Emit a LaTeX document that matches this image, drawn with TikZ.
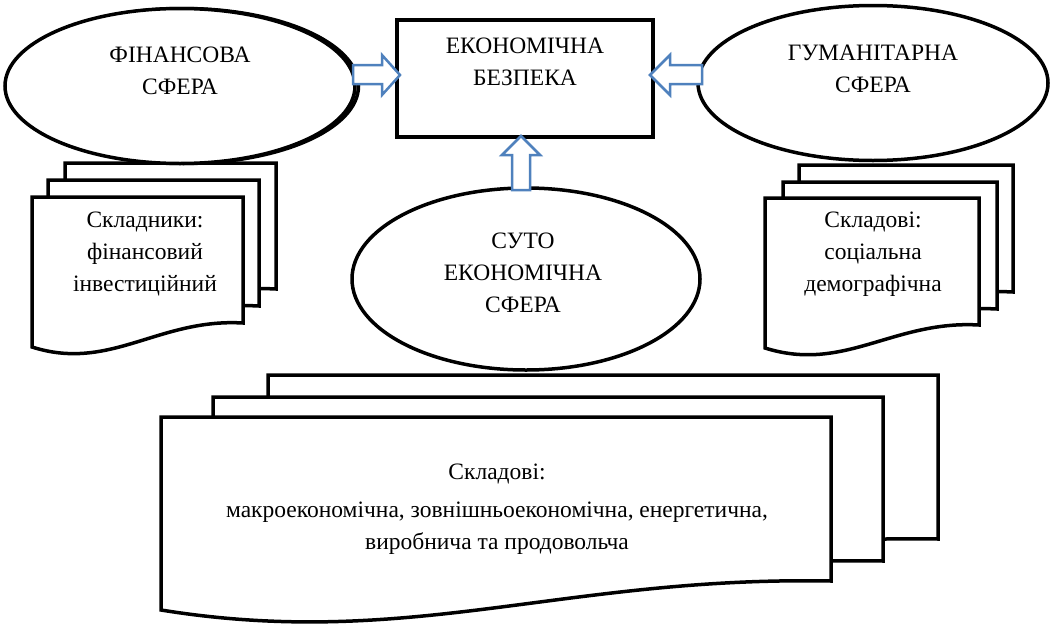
\documentclass[tikz,border=0pt]{standalone}
\usepackage{fontspec}
\setmainfont{Liberation Serif}
\usetikzlibrary{shapes.geometric}
\definecolor{arrowblue}{RGB}{79,129,189}
\newcommand\mydoc[6]{%
  \draw[docline] (#1,#5) -- (#1,#2) -- (#3,#2) -- (#3,#4)
    .. controls ({#1+0.6*(#3-#1)},{#4-5}) and ({#1+0.37*(#3-#1)},{#5+#6}) .. (#1,#5) -- cycle;}
\begin{document}
\begin{tikzpicture}[x=1pt,y=-1pt,
  docline/.style={line width=3.5pt, fill=white, line join=miter},
  ell/.style={ellipse, draw, line width=3.5pt, inner sep=0pt, fill=white},
  boxnode/.style={rectangle, draw, line width=3.5pt, inner sep=0pt, fill=white},
  txt/.style={align=center, inner sep=0pt, anchor=base, font=\fontsize{23.5}{32}\selectfont},
  barrow/.style={draw=arrowblue, line width=2.5pt, fill=white, line join=miter}]
\useasboundingbox (0,0) rectangle (1051,624);
% document stacks
\mydoc{65}{163}{276}{289}{313}{25}
\mydoc{48}{180}{259}{306}{330}{25}
\mydoc{32}{197}{243}{323}{347}{25}
\mydoc{799}{165}{1013}{292}{315}{25}
\mydoc{783}{182}{997}{309}{332}{25}
\mydoc{765}{198}{979}{325}{348}{25}
\mydoc{268}{375}{938}{539}{568}{40}
\mydoc{213}{397}{883}{561}{590}{40}
\mydoc{161}{417}{831}{581}{610}{40}
% ellipses and box
\node[ell, minimum width=350pt, minimum height=155pt] (finshadow) at (183.5,86) {};
\node[ell, minimum width=350pt, minimum height=155pt] (fin) at (180,86) {};
\node[ell, minimum width=350pt, minimum height=155pt] (hum) at (873,83) {};
\node[ell, minimum width=348pt, minimum height=182pt] (eco) at (526,279) {};
\node[boxnode, minimum width=256pt, minimum height=117pt] (sec) at (525,78.5) {};
% texts (anchored at the baseline of the last line)
\node[txt] (fintxt) at (180,94) {ФІНАНСОВА\\СФЕРА};
\node[txt] (sectxt) at (525,85) {ЕКОНОМІЧНА\\БЕЗПЕКА};
\node[txt] (humtxt) at (873,92) {ГУМАНІТАРНА\\СФЕРА};
\node[txt] (ecotxt) at (523,312) {СУТО\\ЕКОНОМІЧНА\\СФЕРА};
\node[txt] (fintxt2) at (145,291) {Складники:\\фінансовий\\інвестиційний};
\node[txt] (humtxt2) at (873,291) {Складові:\\соціальна\\демографічна};
\node[txt] (ecotxt2) at (497,549) {Складові:\\[6pt]макроекономічна, зовнішньоекономічна, енергетична,\\виробнича та продовольча};
% block arrows
\draw[barrow] (353,65) -- (382,65) -- (382,55) -- (400,75) -- (382,95) -- (382,84) -- (353,84) -- cycle;
\draw[barrow] (702,65) -- (670,65) -- (670,55) -- (650,75) -- (670,95) -- (670,84) -- (702,84) -- cycle;
\draw[barrow] (512,190) -- (512,155) -- (502,155) -- (521,136) -- (540,155) -- (530,155) -- (530,190) -- cycle;
\end{tikzpicture}
\end{document}
